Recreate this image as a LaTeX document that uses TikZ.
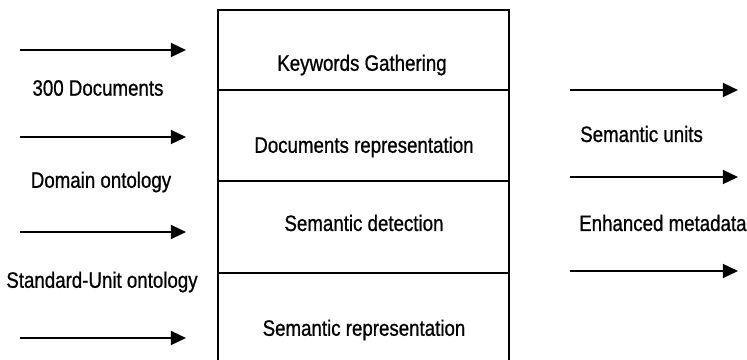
\documentclass[tikz,border=0pt]{standalone}
\usepackage{fontspec}
\setmainfont{Liberation Sans}[FakeStretch=0.84, FakeBold=0.8]
\usetikzlibrary{arrows.meta,positioning}

\begin{document}
\begin{tikzpicture}[
    x=0.03cm, y=-0.03cm,
    box/.style={draw, line width=1.4pt, outer sep=0pt, minimum width=8.73cm},
    lbl/.style={font=\fontsize{19}{22}\selectfont, inner sep=0pt},
    arr/.style={-{Triangle[length=13pt,width=12pt]}, line width=1.6pt}
]
\useasboundingbox (0,0) rectangle (747,360);

% Processing stages
\node[box, minimum height=2.4cm, anchor=north west] (gather) at (218,10) {};
\node[box, minimum height=2.73cm, below=0pt of gather] (docrep) {};
\node[box, minimum height=2.76cm, below=0pt of docrep] (detect) {};
\node[box, minimum height=3.2cm, below=0pt of detect] (semrep) {};

\node[lbl] (gathertxt) at (362,65) {Keywords Gathering};
\node[lbl] (docreptxt) at (364,147) {Documents representation};
\node[lbl] (detecttxt) at (364,223) {Semantic detection};
\node[lbl] (semreptxt) at (364,330) {Semantic representation};

% Inputs
\coordinate (in1a) at (20,50);   \coordinate (in1b) at (186,50);
\coordinate (in2a) at (20,137);  \coordinate (in2b) at (186,137);
\coordinate (in3a) at (20,232);  \coordinate (in3b) at (186,232);
\coordinate (in4a) at (20,338);  \coordinate (in4b) at (186,338);
\foreach \i in {1,...,4}
    \draw[arr] (in\i a) -- (in\i b);

\node[lbl] (docs) at (98,88) {300 Documents};
\node[lbl] (domain) at (101,182) {Domain ontology};
\node[lbl] (unit) at (102,282) {Standard-Unit ontology};

% Outputs
\coordinate (out1a) at (570,90);   \coordinate (out1b) at (738,90);
\coordinate (out2a) at (570,177);  \coordinate (out2b) at (738,177);
\coordinate (out3a) at (570,271);  \coordinate (out3b) at (738,271);
\foreach \i in {1,2,3}
    \draw[arr] (out\i a) -- (out\i b);

\node[lbl, anchor=west] (units) at (580,134) {Semantic units};
\node[lbl, anchor=west] (meta) at (579,223) {Enhanced metadata};

\end{tikzpicture}
\end{document}
